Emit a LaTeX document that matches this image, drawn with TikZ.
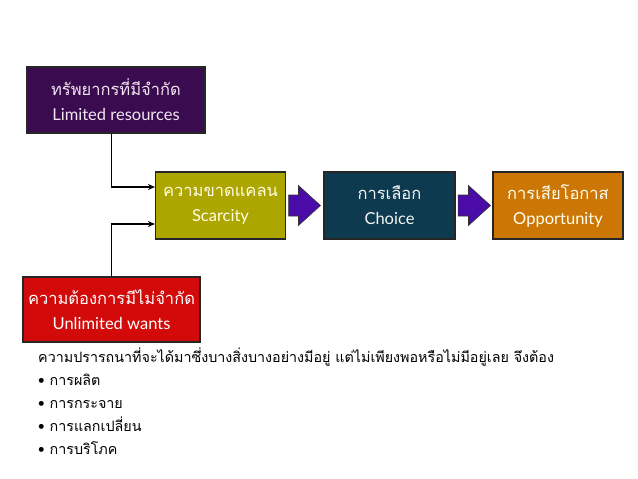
\documentclass[tikz,border=0pt]{standalone}
\usepackage{fontspec}
\newfontfamily\thaifont[Script=Thai]{Loma}
\newfontfamily\latinfont{Lato}
\usepackage{xcolor}
\usetikzlibrary{positioning,arrows.meta,calc}

\definecolor{resourcepurple}{HTML}{3A0B4E}
\definecolor{scarceolive}{HTML}{ADA500}
\definecolor{choiceteal}{HTML}{0E3A50}
\definecolor{opporange}{HTML}{CC7605}
\definecolor{wantsred}{HTML}{D20A0A}
\definecolor{arrowviolet}{HTML}{4A0BA8}

\begin{document}
\begin{tikzpicture}[
    x=1pt, y=-1pt,
    box/.style={draw=black!85, line width=1.1pt, rectangle, align=center, inner sep=0pt,
        font=\fontsize{16.5}{25}\selectfont},
    fatarrow/.style={draw=black!80, line width=0.6pt, fill=arrowviolet, line join=miter},
    feed/.style={draw=black, line width=1.2pt, -{Stealth[length=7pt,width=6pt]}},
    bodytext/.style={align=left, inner sep=0pt, anchor=north west,
        font=\thaifont\fontsize{14.3}{22.8}\selectfont}
]
\useasboundingbox (0,0) rectangle (638,479);

% Inputs: resources and wants
\node[box, fill=resourcepurple, text=white!90!violet, minimum width=178pt, minimum height=66pt]
    (resources) at (116,100) {{\thaifont ทรัพยากรที่มีจำกัด}\\{\latinfont Limited resources}};
\node[box, fill=wantsred, text=white, minimum width=177pt, minimum height=65pt]
    (wants) at (111.5,309.5) {{\thaifont ความต้องการมีไม่จำกัด}\\{\latinfont Unlimited wants}};

% Main chain
\node[box, fill=scarceolive, text=white!90!yellow, minimum width=130pt, minimum height=67pt]
    (scarcity) at (220.5,205.5) {{\thaifont ความขาดแคลน}\\{\latinfont Scarcity}};
\node[box, fill=choiceteal, text=white!92!gray, minimum width=131pt, minimum height=67pt]
    (choice) at (389.5,205.5) {{\thaifont การเลือก}\\{\latinfont Choice}};
\node[box, fill=opporange, text=white!95!yellow, minimum width=130pt, minimum height=67pt]
    (opportunity) at (558,205.5) {{\thaifont การเสียโอกาส}\\{\latinfont Opportunity}};

% Block arrows
\draw[fatarrow] ($(scarcity.east)+(2.5,-10.5)$) -- ($(choice.west)+(-25,-10.5)$)
    -- ($(choice.west)+(-25,-20)$) -- ($(choice.west)+(-3,0)$) -- ($(choice.west)+(-25,20)$)
    -- ($(choice.west)+(-25,10.5)$) -- ($(scarcity.east)+(2.5,10.5)$) -- cycle;
\draw[fatarrow] ($(choice.east)+(2.5,-10.5)$) -- ($(opportunity.west)+(-24,-10.5)$)
    -- ($(opportunity.west)+(-24,-20)$) -- ($(opportunity.west)+(-2,0)$) -- ($(opportunity.west)+(-24,20)$)
    -- ($(opportunity.west)+(-24,10.5)$) -- ($(choice.east)+(2.5,10.5)$) -- cycle;

% Feeds into scarcity
\coordinate (topbend) at (111.5,187);
\coordinate (lowbend) at (111.5,224);
\draw[feed] (resources.south -| topbend) -- (topbend) -- (topbend -| scarcity.west);
\draw[feed] (wants.north -| lowbend) -- (lowbend) -- (lowbend -| scarcity.west);

% Note below
\node[bodytext] (note) at (38,348) {%
ความปรารถนาที่จะได้มาซึ่งบางสิ่งบางอย่างมีอยู่ แต่ไม่เพียงพอหรือไม่มีอยู่เลย จึงต้อง\\
• การผลิต\\
• การกระจาย\\
• การแลกเปลี่ยน\\
• การบริโภค};

\end{tikzpicture}
\end{document}
